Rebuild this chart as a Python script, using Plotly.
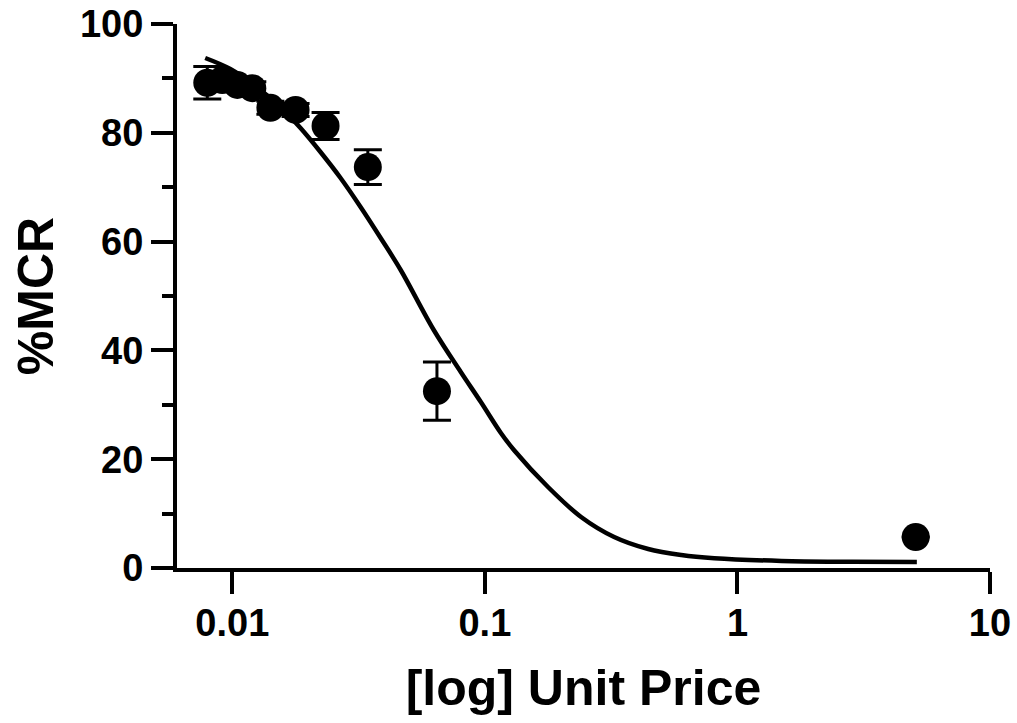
import plotly.graph_objects as go

# Measured consumption (%MCR) at each unit price, with SEM
price = [0.00796, 0.00913, 0.01047, 0.0120, 0.01415, 0.0178, 0.0234, 0.0344, 0.0646, 5.08]
mcr = [89.2, 89.7, 88.8, 88.2, 84.6, 84.2, 81.25, 73.7, 32.5, 5.7]
sem = [3.0, 1.2, 1.2, 1.2, 1.2, 1.2, 2.5, 3.2, 5.35, 0.0]

# Fitted demand curve, sampled along the price range
fit_price = [0.00781, 0.00982, 0.01234, 0.01551, 0.01862, 0.02234, 0.02683, 0.03220,
             0.03867, 0.04642, 0.06275, 0.08027, 0.09640, 0.1157, 0.1303, 0.1778,
             0.2404, 0.3250, 0.4433, 0.5995, 0.8101, 1.495, 2.835, 5.133]
fit_mcr = [93.75, 91.73, 88.60, 84.74, 80.88, 76.47, 71.69, 66.36,
           60.66, 54.78, 43.75, 36.03, 30.51, 24.82, 21.7, 14.89,
           9.38, 5.70, 3.49, 2.39, 1.80, 1.30, 1.15, 1.10]

x_ticks = [0.01, 0.1, 1, 10]
x_tick_text = ["0.01", "0.1", "1", "10"]
y_ticks = [0, 20, 40, 60, 80, 100]
y_minor_ticks = [10, 30, 50, 70, 90]

font_family = "Liberation Sans, Arial, sans-serif"

fig = go.Figure()

fig.add_trace(go.Scatter(
    x=fit_price, y=fit_mcr, mode="lines",
    line=dict(color="black", width=4.5, shape="spline", smoothing=1.0),
    hoverinfo="skip", showlegend=False,
))

fig.add_trace(go.Scatter(
    x=price, y=mcr, mode="markers",
    marker=dict(color="black", size=28, line=dict(width=0)),
    error_y=dict(type="data", array=sem, visible=True, color="black",
                 thickness=3, width=14),
    showlegend=False,
))

fig.update_layout(
    width=1017, height=723,
    margin=dict(l=177, r=27, t=24, b=155),
    paper_bgcolor="white", plot_bgcolor="white",
    font=dict(family=font_family, color="black"),
)

fig.update_xaxes(
    type="log", range=[-2.219, 1.0], automargin=False,
    tickvals=x_ticks, ticktext=x_tick_text,
    showgrid=False, zeroline=False,
    showline=True, linecolor="black", linewidth=4,
    ticks="outside", ticklen=22, tickwidth=4, tickcolor="black",
    ticklabelstandoff=-4,
    tickfont=dict(size=38, weight="bold", family=font_family),
    title=dict(text="[log] Unit Price", standoff=28,
               font=dict(size=50, weight="bold", family=font_family)),
)

fig.update_yaxes(
    range=[0, 100], tickvals=y_ticks, automargin=False,
    showgrid=False, zeroline=False,
    showline=True, linecolor="black", linewidth=4,
    ticks="outside", ticklen=22, tickwidth=4, tickcolor="black",
    minor=dict(tickvals=y_minor_ticks, ticks="outside", ticklen=11,
               tickwidth=4, tickcolor="black", showgrid=False),
    tickfont=dict(size=38, weight="bold", family=font_family),
    title=dict(text="%MCR", standoff=11,
               font=dict(size=50, weight="bold", family=font_family)),
)

fig.write_html("out.html")
